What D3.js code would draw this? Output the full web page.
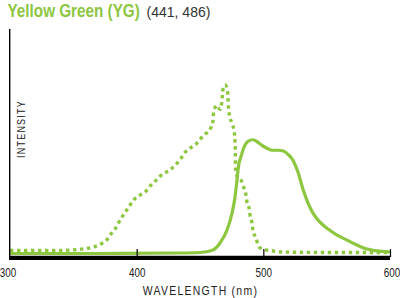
<!DOCTYPE html>
<html>
<head>
<meta charset="utf-8">
<script src="https://cdn.jsdelivr.net/npm/d3@7"></script>
<style>
  html, body { margin: 0; padding: 0; background: #fff; }
  svg { display: block; }
</style>
</head>
<body>
<svg id="chart" width="400" height="298"></svg>
<script>
// ---- data ----
const titleMain = "Yellow Green (YG)";
const titlePeaks = "(441, 486)";
const xTicks = [300, 400, 500, 600];
const xLabel = "WAVELENGTH (nm)";
const yLabel = "INTENSITY";

// excitation (dotted) : wavelength nm
const excWl = [300, 339.5, 349, 355.3, 361.6, 367.1, 371.8, 376.6, 379.7, 382.9, 386, 388.4, 391.6, 394.7, 397.9,
  402.6, 407.4, 410.5, 414.5, 418.4, 423.2, 427.9, 431.8, 435, 438.2, 442.1, 446.8, 450, 453.9, 457.9,
  460.3, 460.7, 463.4, 465.8, 467.4, 467.8, 469.7, 471.7, 472.1, 472.5, 473.3, 475.3, 476.8, 477.6, 477.9, 478,
  479.2, 483.2, 484.7, 486.3, 487.1, 488.7, 489.5, 491.1, 491.8, 494.2, 496.6, 502.1, 507.6, 513.2, 552.6, 600];
// excitation intensity (%)
const excI = [2.1, 2.1, 2.4, 2.8, 3.4, 4.4, 5.9, 8.5, 11.8, 14.7, 18.8, 21.8, 25.3, 28.8, 32.1,
  34.7, 37.1, 40, 42.9, 45.9, 48.2, 50.6, 53.5, 56.5, 60, 62.4, 64.7, 67.6, 70.6, 73.5,
  78.8, 84.1, 87.6, 85.3, 90.6, 95.9, 99.7, 97.1, 91.8, 86.5, 81.8, 77.1, 72.9, 67.1, 58.2, 50.6,
  45.9, 42.4, 38.8, 34.7, 30.6, 27.1, 22.9, 18.2, 14.1, 9.4, 4.1, 2.4, 1.8, 1.2, 0.9, 0.9];

// emission (solid)
const emWl = [300, 371, 434.2, 450, 460.3, 465.8, 471.3, 475.3, 477.6, 479.2, 480.4, 482.4, 484.7, 487.9,
  491.8, 495.8, 498.9, 502.9, 506.8, 511.6, 516.3, 519.5, 523.4, 527.4, 531.3, 535.3, 539.2, 544.7,
  551.1, 558.2, 566.1, 573.9, 581.8, 589.7, 600];
const emI = [0.3, 0.3, 0.6, 0.9, 2.4, 6.5, 14.1, 24.1, 33.5, 43.5, 51.8, 57.6, 62.9, 66.5,
  67.4, 65.9, 64.1, 62.4, 61.2, 61.2, 60.6, 58.8, 55.3, 48.2, 38.2, 30, 24.1, 18.8,
  14.7, 11.2, 8.2, 5.3, 2.9, 1.8, 1.2];

// ---- drawing ----
const green = "#8dc63f";
const svg = d3.select("#chart");
const font = "'Liberation Sans', Arial, sans-serif";

const x = d3.scaleLinear().domain([300, 600]).range([10, 390]);
const y = d3.scaleLinear().domain([0, 100]).range([254, 84.5]);

// condensed text: place at (tx,ty) with rotation, squeeze horizontally to a target width
function squeezed(parent, str, tx, ty, width, opts) {
  const g = parent.append("g");
  const t = g.append("text").attr("x", 0).attr("y", 0)
    .attr("font-family", font).attr("font-size", opts.size).attr("fill", opts.fill)
    .attr("font-weight", opts.weight || "normal")
    .attr("letter-spacing", opts.spacing || 0)
    .attr("text-anchor", opts.anchor || "start").text(str);
  const w = t.node().getComputedTextLength();
  const sx = width / w;
  g.attr("transform", `translate(${tx},${ty}) rotate(${opts.rotate || 0}) scale(${sx},1)`);
  return g;
}

// title
squeezed(svg, titleMain, 7.5, 17, 132.5, {size: 17.5, fill: green, weight: "bold"});
squeezed(svg, titlePeaks, 146.5, 17, 64, {size: 15, fill: "#333"});

// curves
const line = d3.line().x(d => x(d[0])).y(d => y(d[1])).curve(d3.curveMonotoneX);
svg.append("path")
  .datum(excWl.map((w, i) => [w, excI[i]]))
  .attr("d", line).attr("fill", "none").attr("stroke", green)
  .attr("stroke-width", 3.4).attr("stroke-dasharray", "3.4,3.6");
svg.append("path")
  .datum(emWl.map((w, i) => [w, emI[i]]))
  .attr("d", line).attr("fill", "none").attr("stroke", green)
  .attr("stroke-width", 3.2).attr("stroke-linejoin", "round");

// axes
svg.append("line").attr("x1", 10).attr("x2", 390).attr("y1", 255.6).attr("y2", 255.6)
  .attr("stroke", "#bbb").attr("stroke-width", 1);
svg.append("line").attr("x1", 9).attr("x2", 390).attr("y1", 258).attr("y2", 258)
  .attr("stroke", "#000").attr("stroke-width", 4);
svg.append("line").attr("x1", 9.7).attr("x2", 9.7).attr("y1", 29).attr("y2", 258)
  .attr("stroke", "#000").attr("stroke-width", 1.4);

const xAxis = d3.axisBottom(x).tickValues(xTicks).tickSize(0).tickPadding(0).tickFormat(d3.format("d"));
const gx = svg.append("g").call(xAxis);
gx.select(".domain").remove();
gx.selectAll(".tick text").remove();
gx.selectAll(".tick").each(function(d) {
  const dx = d === 300 ? -2.5 : (d === 600 ? 1.5 : 0);
  squeezed(d3.select(this), d3.format("d")(d), dx, 276.5, 16.5, {size: 12.5, fill: "#222", anchor: "middle"});
});
gx.selectAll(".tick").filter(d => d !== 300).append("line")
  .attr("y1", 249).attr("y2", 257).attr("stroke", "#000").attr("stroke-width", 1.2);
gx.selectAll(".tick").filter(d => d === 600).select("line").attr("x1", -1).attr("x2", -1);

squeezed(svg, xLabel, 200.5, 295, 115.5, {size: 13, fill: "#222", anchor: "middle", spacing: 1.6});
squeezed(svg, yLabel, 25, 129, 58, {size: 11.5, fill: "#222", anchor: "middle", spacing: 1.6, rotate: -90});
</script>
</body>
</html>
